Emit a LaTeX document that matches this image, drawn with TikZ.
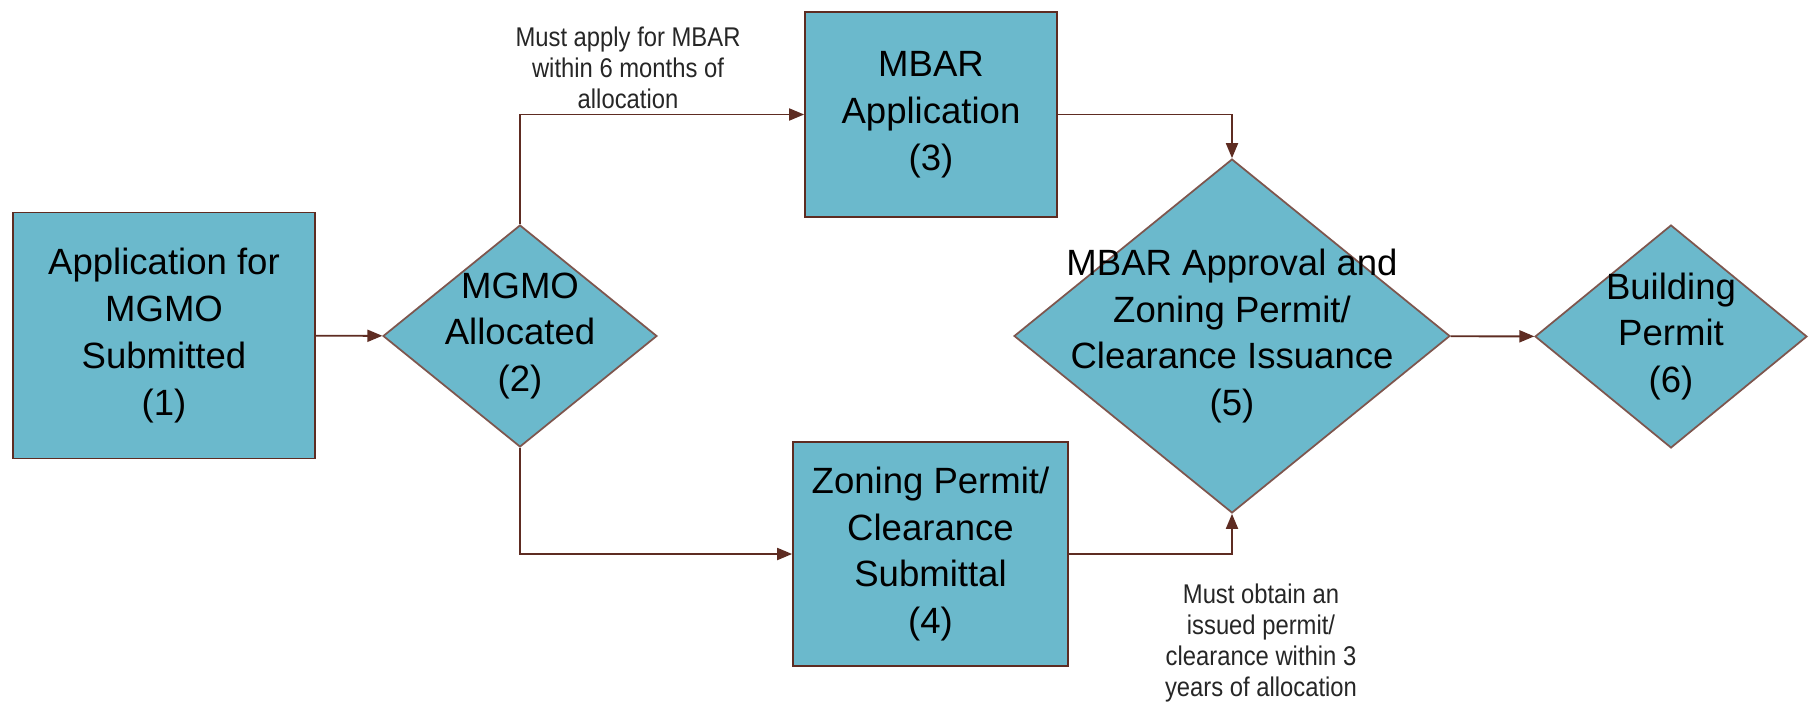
\documentclass[tikz,border=0pt]{standalone}
\usepackage{fontspec}
\setmainfont{Liberation Sans}
\newfontfamily\NoteFont[FakeStretch=0.88]{Liberation Sans}
\usepackage{tikz}
\usetikzlibrary{shapes.geometric}
\usetikzlibrary{arrows.meta}
\usepackage{xcolor}
\definecolor{ColA}{RGB}{107,185,204}
\definecolor{ColB}{RGB}{94,44,34}
\tikzstyle{BoxFlow}=[rectangle,draw=ColB,fill=ColA,line width=1pt,inner sep=0pt,align=center,
font=\fontsize{20.8}{26.7}\selectfont]
\tikzstyle{DiamondFlow}=[BoxFlow,diamond,draw=ColB!80]
\tikzstyle{TextFlow}=[align=center,inner sep=0pt,font=\fontsize{20.8}{26.7}\selectfont]
\tikzstyle{NoteFlow}=[align=center,inner sep=0pt,text=black!85,font=\NoteFont\fontsize{15.4}{17.6}\selectfont]
\tikzstyle{ArcFlow}=[ColB,line width=1.1pt,-{Triangle[length=8.5pt,width=6.8pt]}]

\begin{document}
\begin{tikzpicture}[x=0.02cm,y=-0.02cm]
        \useasboundingbox(0,0)rectangle(1816,703);
        \node[BoxFlow,minimum width=6.04cm,minimum height=4.92cm](app)at(164,335.5){Application for\\MGMO\\Submitted\\(1)};
        \node[DiamondFlow,minimum width=5.48cm,minimum height=4.44cm](alloc)at(520,336){};
        \node[TextFlow](allocT)at(alloc){MGMO\\Allocated\\(2)};
        \node[BoxFlow,minimum width=5.04cm,minimum height=4.10cm](mbar)at(931,114.5){MBAR\\Application\\(3)};
        \node[BoxFlow,minimum width=5.50cm,minimum height=4.48cm](zoning)at(930.5,554){Zoning Permit/\\Clearance\\Submittal\\(4)};
        \node[DiamondFlow,minimum width=8.72cm,minimum height=7.08cm](approval)at(1232,336){};
        \node[TextFlow](approvalT)at(approval){MBAR Approval and\\Zoning Permit/\\Clearance Issuance\\(5)};
        \node[DiamondFlow,minimum width=5.44cm,minimum height=4.46cm](building)at(1671,336.5){};
        \node[TextFlow](buildingT)at(building){Building\\Permit\\(6)};
        \node[NoteFlow](noteA)at(628,68){Must apply for MBAR\\within 6 months of\\allocation};
        \node[NoteFlow](noteB)at(1261,643){Must obtain an\\issued permit/\\clearance within 3\\years of allocation};
        \draw[ArcFlow](app)--(alloc);
        \draw[ArcFlow](alloc.north)|-(mbar.west);
        \draw[ArcFlow](alloc.south)|-(zoning.west);
        \draw[ArcFlow](mbar.east)-|(approval.north);
        \draw[ArcFlow](zoning.east)-|(approval.south);
        \draw[ArcFlow](approval)--(building);
    \end{tikzpicture}
\end{document}
